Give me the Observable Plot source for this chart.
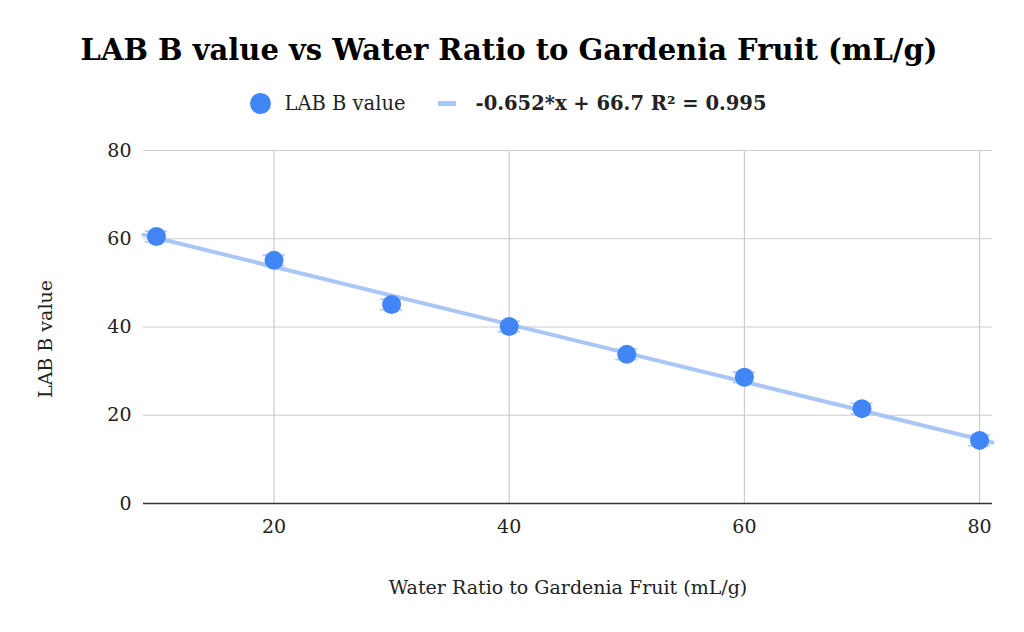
<!DOCTYPE html>
<html>
<head>
<meta charset="utf-8">
<script src="https://cdn.jsdelivr.net/npm/d3@7"></script>
<script src="https://cdn.jsdelivr.net/npm/@observablehq/plot@0.6"></script>
<style>
  html, body { margin: 0; padding: 0; background: #fff; }
  body { width: 1024px; height: 632px; position: relative; overflow: hidden; font-family: "DejaVu Serif", serif; color: #222; }
  #title { position: absolute; left: 0; width: 1018px; top: 33px; text-align: center; font-weight: bold; font-size: 29px; color: #000; }
  #legend { position: absolute; left: 0; width: 1016px; top: 89px; height: 28px; display: flex; align-items: center; justify-content: center; font-size: 19.5px; color: #222; }
  .sw-dot { width: 21px; height: 21px; border-radius: 50%; background: #4285f4; margin-right: 14px; }
  .sw-line { width: 18px; height: 5px; background: #a9c6f6; margin-left: 32px; margin-right: 20px; }
  #chart { position: absolute; left: 0; top: 0; }
</style>
</head>
<body>
<div id="chart"></div>
<div id="title"></div>
<div id="legend"></div>
<script>
const titleText = "LAB B value vs Water Ratio to Gardenia Fruit (mL/g)";
const seriesName = "LAB B value";
const trendLabel = "-0.652*x + 66.7 R² = 0.995";
const xLabel = "Water Ratio to Gardenia Fruit (mL/g)";
const yLabel = "LAB B value";

const ratios = [10, 20, 30, 40, 50, 60, 70, 80];
const labB = [60.5, 55.1, 45.1, 40.1, 33.8, 28.6, 21.5, 14.3];
const errs = [1.2, 1.2, 1.2, 1.2, 1.2, 1.2, 1.2, 1.2];
const trendSlope = -0.652;
const trendIntercept = 66.7;
const xDomain = [8.9, 81.1];
const yDomain = [0, 80];
const xTicks = [20, 40, 60, 80];
const yTicks = [0, 20, 40, 60, 80];

const points = ratios.map((x, i) => ({x, y: labB[i], e: errs[i]}));
const trend = xDomain.map(x => ({x, y: trendSlope * x + trendIntercept}));

document.getElementById("title").textContent = titleText;
document.getElementById("legend").innerHTML =
  `<div class="sw-dot"></div><span>${seriesName}</span><div class="sw-line"></div><span style="font-weight:bold">${trendLabel}</span>`;

const blue = "#4285f4";
const light = "#a9c6f6";

const plot = Plot.plot({
  width: 1024,
  height: 632,
  marginTop: 150,
  marginBottom: 129,
  marginLeft: 143,
  marginRight: 32,
  style: {fontFamily: "DejaVu Serif, serif", fontSize: "19px", color: "#222", background: "transparent"},
  x: {domain: xDomain, ticks: xTicks, tickSize: 0, tickPadding: 16, label: xLabel, labelAnchor: "center", labelOffset: 90, labelArrow: "none", tickFormat: d => String(d)},
  y: {domain: yDomain, ticks: yTicks, tickSize: 0, tickPadding: 12, label: null, tickFormat: d => String(d)},
  marks: [
    Plot.gridX(xTicks, {stroke: "#cccccc", strokeOpacity: 1, strokeWidth: 1.2}),
    Plot.gridY(yTicks.filter(d => d !== 0), {stroke: "#cccccc", strokeOpacity: 1, strokeWidth: 1.2}),
    Plot.ruleY([0], {stroke: "#333", strokeWidth: 1.5}),
    Plot.line(trend, {x: "x", y: "y", stroke: light, strokeWidth: 4}),
    Plot.ruleX(points, {x: "x", y1: d => d.y - d.e, y2: d => d.y + d.e, stroke: light, strokeWidth: 1.5}),
    Plot.ruleY(points, {y: d => d.y - d.e, x1: d => d.x - 0.95, x2: d => d.x + 0.95, stroke: light, strokeWidth: 1.5}),
    Plot.ruleY(points, {y: d => d.y + d.e, x1: d => d.x - 0.95, x2: d => d.x + 0.95, stroke: light, strokeWidth: 1.5}),
    Plot.dot(points, {x: "x", y: "y", r: 9.5, fill: blue, stroke: "none"}),
    Plot.text([yLabel], {frameAnchor: "left", textAnchor: "middle", dx: -98, dy: 12, rotate: -90, fontSize: 19, fill: "#222"})
  ]
});
document.getElementById("chart").appendChild(plot);
</script>
</body>
</html>
